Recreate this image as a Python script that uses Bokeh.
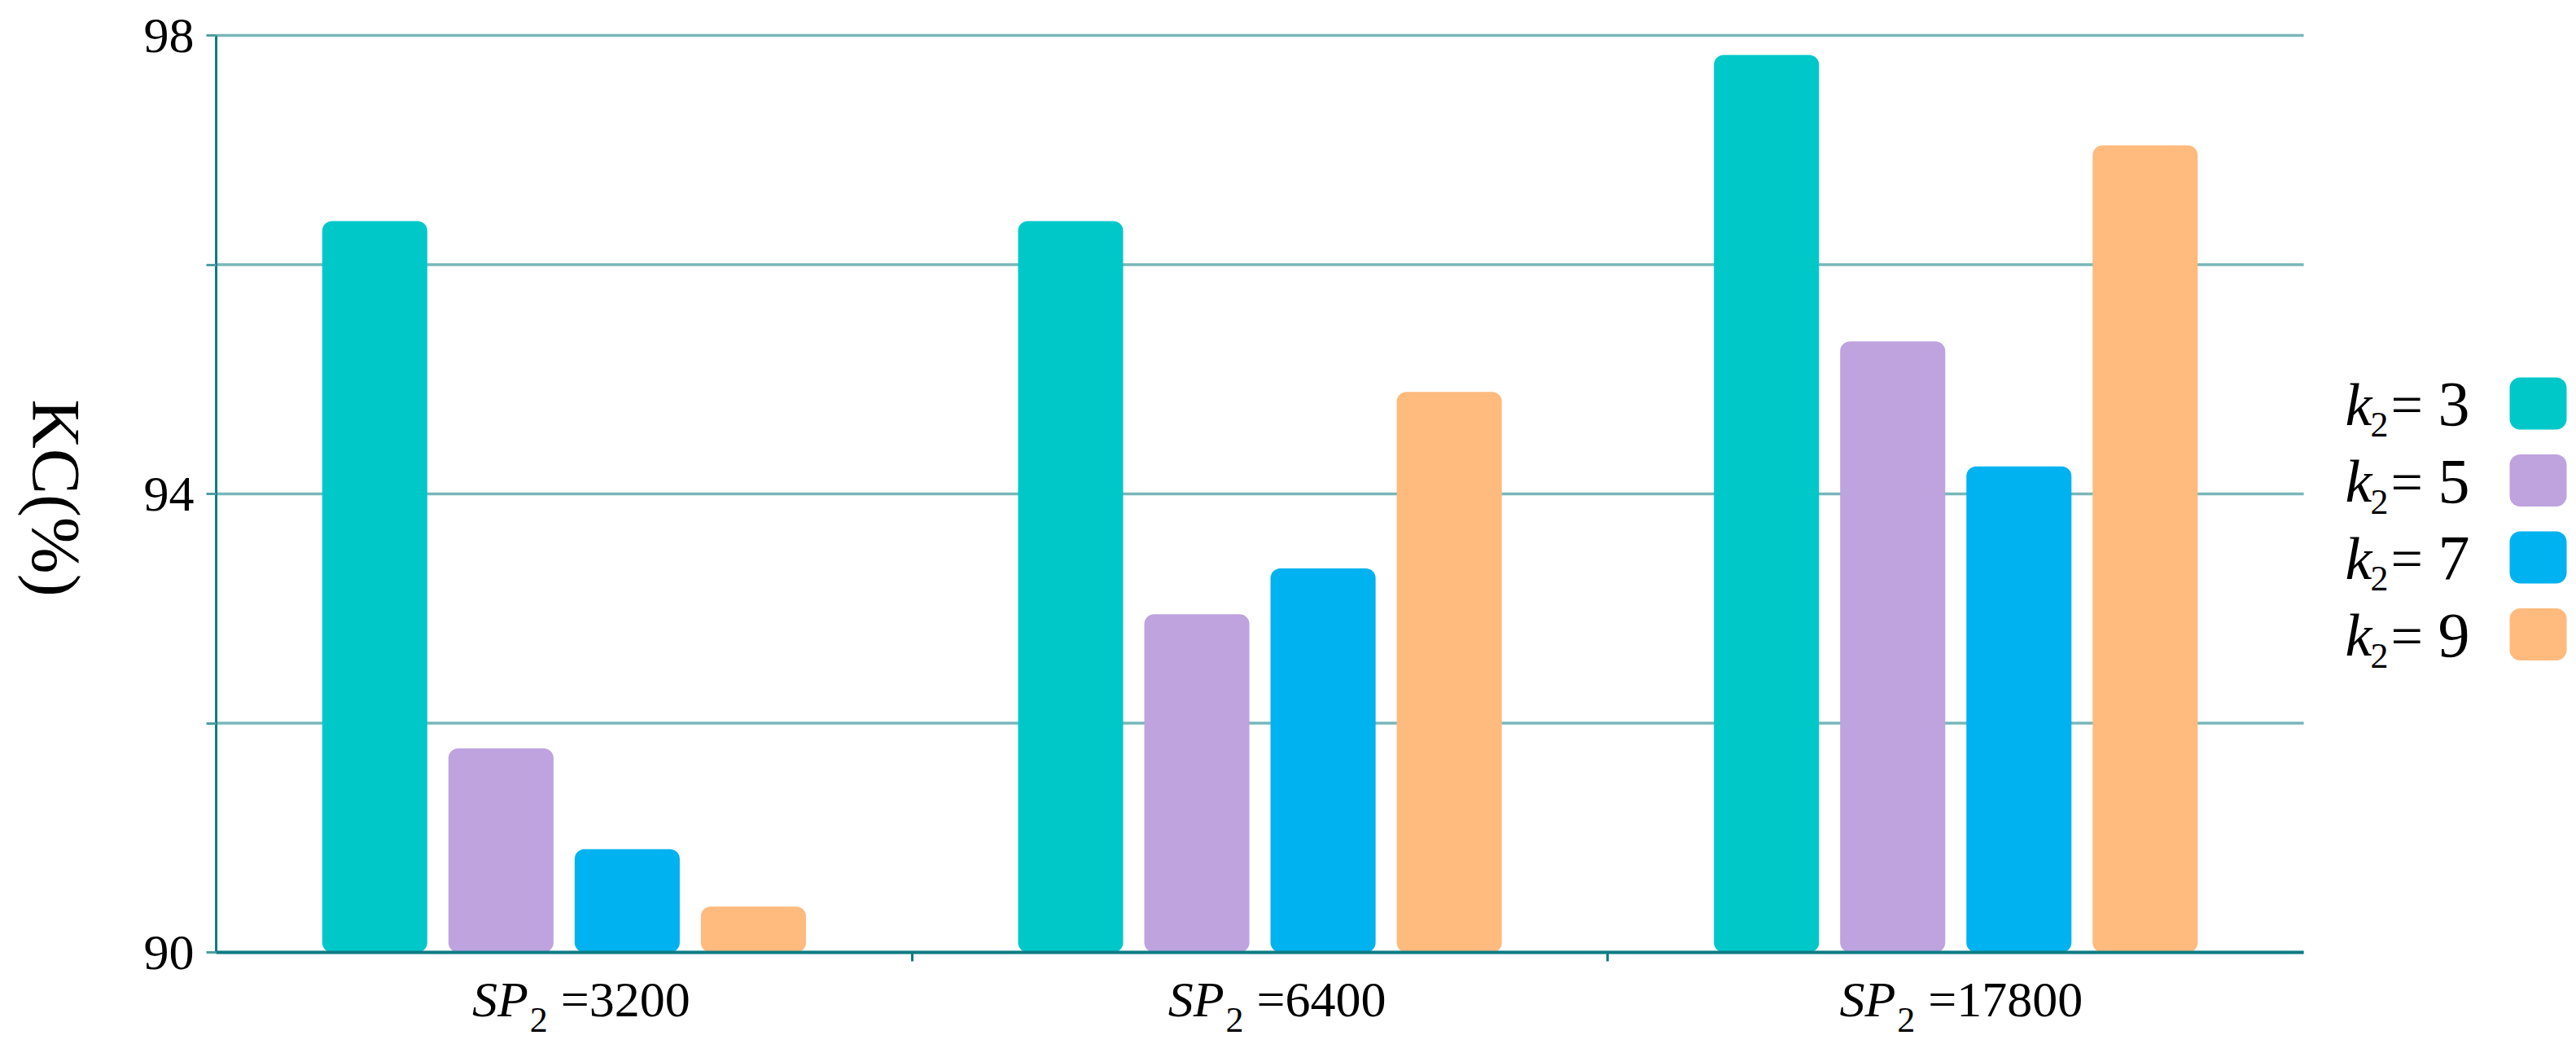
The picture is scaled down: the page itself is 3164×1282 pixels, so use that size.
import numpy as np
from bokeh.plotting import figure
from bokeh.models import ColumnDataSource, Range1d, LinearAxis, FixedTicker
from bokeh.transform import dodge
from bokeh.core.properties import value
from bokeh.embed import file_html
from bokeh.resources import INLINE

# ---- data ----
categories = ["3200", "6400", "17800"]
series_k2 = ["3", "5", "7", "9"]
kc_k3 = [96.38, 96.38, 97.83]
kc_k5 = [91.78, 92.95, 95.33]
kc_k7 = [90.90, 93.35, 94.24]
kc_k9 = [90.40, 94.89, 97.04]
y_ticks = [90, 92, 94, 96, 98]
y_labeled = [90, 94, 98]
y_label_text = "KC(%)"

colors = ["#00C8C9", "#BEA3DF", "#00B2EF", "#FFBA7E"]
axis_col = "#0E7C84"
grid_col = "#78B7BA"
FONT = "Liberation Serif"

W, H = 3164, 1282
n = len(categories)
# layout: data area spans pixels 265..2829 horizontally, 43..1169 vertically
X0, PXU = 265.0, 854.7
Y0, PYU = 43.0, 140.75
def dx(px):
    return (px - X0) / PXU
def dy(py):
    return 98 - (py - Y0) / PYU

p = figure(width=W, height=H, output_backend="svg", toolbar_location=None,
           x_range=Range1d(dx(0), dx(W)), y_range=Range1d(dy(H), dy(0)),
           x_axis_type=None, y_axis_type=None, min_border=0)
p.outline_line_color = None
p.xgrid.visible = False
p.ygrid.visible = False
p.background_fill_color = "white"
p.border_fill_color = "white"

src = ColumnDataSource(dict(x=np.arange(n) + 0.5, k3=kc_k3, k5=kc_k5, k7=kc_k7, k9=kc_k9))

# grid lines limited to the data area
p.segment(x0=0, x1=n, y0=y_ticks, y1=y_ticks, line_color=grid_col, line_width=3.5)

pitch = 0.1814
bw = 0.151
cols = ["k3", "k5", "k7", "k9"]
for i, (c, col) in enumerate(zip(cols, colors)):
    off = (i - 1.5) * pitch
    p.vbar(x=dodge("x", off, range=p.x_range), top=c, bottom=90, width=bw,
           source=src, fill_color=col, line_color=None, border_radius=12)

# axes fixed at the data-area edges
yax = LinearAxis(ticker=FixedTicker(ticks=y_ticks), bounds=(90, 98), fixed_location=0)
yax.major_label_overrides = {t: (str(t) if t in y_labeled else "") for t in y_ticks}
yax.axis_line_color = axis_col
yax.axis_line_width = 3
yax.major_tick_line_color = "#4E9EA3"
yax.major_tick_line_width = 3
yax.major_tick_out = 12
yax.major_tick_in = 0
yax.minor_tick_line_color = None
yax.major_label_text_font = FONT
yax.major_label_text_font_size = "62px"
yax.major_label_text_color = "black"
yax.major_label_standoff = 15
p.add_layout(yax, "left")

xax = LinearAxis(ticker=FixedTicker(ticks=list(np.arange(n) + 0.5), minor_ticks=list(range(1, n))),
                 bounds=(0, n), fixed_location=90)
xax.major_label_overrides = {float(t): "" for t in np.arange(n) + 0.5}
xax.axis_line_color = axis_col
xax.axis_line_width = 4
xax.major_tick_line_color = None
xax.minor_tick_line_color = axis_col
xax.minor_tick_line_width = 3
xax.minor_tick_out = 11
xax.minor_tick_in = 0
xax.major_label_text_font_size = "1px"
p.add_layout(xax, "below")

# category labels: italic SP, subscript 2, "=value"
cx = np.arange(n) + 0.5
offs = np.array([-44 - 30 * (len(c) - 4) for c in categories]) / PXU
p.text(x=cx + offs, y=[dy(1226)] * n, text=["SP"] * n, text_font=value(FONT),
       text_font_style="italic", text_font_size=value("62px"), text_align="right",
       text_baseline="middle")
p.text(x=cx + offs + 2 / PXU, y=[dy(1252)] * n, text=["2"] * n, text_font=value(FONT),
       text_font_size=value("44px"), text_align="left", text_baseline="middle")
p.text(x=cx + offs + 40 / PXU, y=[dy(1226)] * n, text=["=" + c for c in categories],
       text_font=value(FONT), text_font_size=value("62px"), text_align="left",
       text_baseline="middle")

# y axis title, rotated clockwise
p.text(x=[dx(68)], y=[dy(611)], text=[y_label_text], angle=-np.pi / 2, text_font=value(FONT),
       text_font_size=value("84px"), text_align="center", text_baseline="middle")

# legend: text on the left, rounded swatch on the right
m = len(series_k2)
row_c = [495 + 94.5 * i for i in range(m)]
p.vbar(x=[dx(3117)] * m, top=[dy(r - 32) for r in row_c], bottom=[dy(r + 32) for r in row_c],
       width=70 / PXU, fill_color=colors, line_color=None, border_radius=13)
p.text(x=[dx(2880)] * m, y=[dy(r + 1) for r in row_c], text=["k"] * m, text_font=value(FONT),
       text_font_style="italic", text_font_size=value("74px"), text_baseline="middle",
       text_align="left")
p.text(x=[dx(2911)] * m, y=[dy(r + 26) for r in row_c], text=["2"] * m,
       text_font=value(FONT), text_font_size=value("44px"), text_baseline="middle",
       text_align="left")
p.text(x=[dx(2936)] * m, y=[dy(r + 2) for r in row_c], text=["="] * m,
       text_font=value(FONT), text_font_size=value("70px"), text_baseline="middle",
       text_align="left")
p.text(x=[dx(2994)] * m, y=[dy(r + 1) for r in row_c], text=series_k2,
       text_font=value(FONT), text_font_size=value("78px"), text_baseline="middle",
       text_align="left")

open("out.html", "w").write(file_html(p, INLINE))
